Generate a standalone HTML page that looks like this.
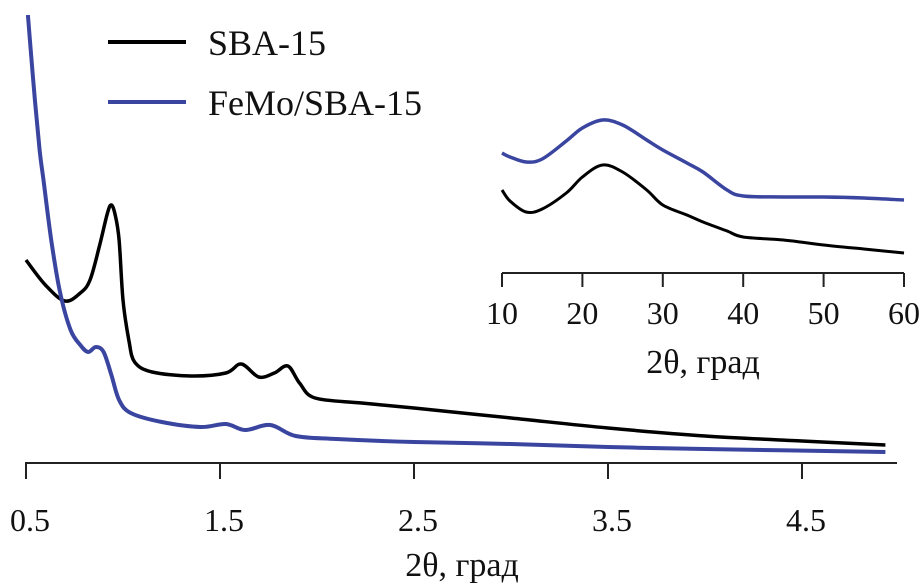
<!DOCTYPE html>
<html><head><meta charset="utf-8"><style>
body{margin:0;background:#fff}
svg{display:block;font-family:"Liberation Serif",serif}
</style></head><body>
<svg id="c" width="924" height="587"></svg>
<script>
const mainTicks=[0.5,1.5,2.5,3.5,4.5];
const mainTickLabels=["0.5","1.5","2.5","3.5","4.5"];
const sbaX=[0.5,0.6,0.7,0.78,0.83,0.88,0.92,0.94,0.96,0.98,1.0,1.03,1.06,1.15,1.35,1.53,1.61,1.7,1.78,1.85,1.91,1.99,2.23,2.5,3.0,3.5,4.0,4.5,4.93];
const sbaY=[203,178,162,170,183,218,250,258,248,223,163,123,101,91,87,90,99,86,90,97,80,65,60,55,45,35,27,22,18];
const femoX=[0.51,0.52,0.546,0.57,0.59,0.63,0.675,0.73,0.78,0.82,0.86,0.9,0.94,0.98,1.04,1.2,1.4,1.53,1.63,1.76,1.89,2.1,2.5,3.0,3.5,4.0,4.93];
const femoY=[448,423,363,313,283,223,171,133,118,111,116,111,88,63,50,41,36,39,33,38,27,24,21,19,16,14,11];
const insetTicks=[10,20,30,40,50,60];
const insetTickLabels=["10","20","30","40","50","60"];
const inSbaX=[10,11,13,15,18,20,22.5,25,28,30,33,35,38,40,45,50,55,60];
const inSbaY=[83,72,61,64,80,96,108,101,83,68,58,51,42,36,33,28,24,20];
const inFemoX=[10,11,13,15,18,20,22.5,25,28,30,33,35,38,40,45,50,55,60];
const inFemoY=[120,116,111,114,132,145,153,148,133,123,110,101,83,77,76,76,75,73];

const svg=document.getElementById('c');
const NS='http://www.w3.org/2000/svg';
function mk(t,a){const e=document.createElementNS(NS,t);for(const k in a)e.setAttribute(k,a[k]);svg.appendChild(e);return e;}
const mx=v=>26+(v-0.5)*194;
const my=v=>463-v;
const ix=v=>502+(v-10)*8.04;
const iy=v=>273-v;

let ax=mk('line',{x1:25,y1:463,x2:897,y2:463,stroke:'#222','stroke-width':2});


mainTicks.forEach((t,i)=>{
 let l=mk('line',{x1:mx(t),y1:463,x2:mx(t),y2:479,stroke:'#222','stroke-width':2});
 
 
 let tx=mk('text',{x:mx(t)+4,y:531,'font-size':32,'text-anchor':'middle',fill:'#111'});
 tx.textContent=mainTickLabels[i];
 
 
});
let xt=mk('text',{x:462,y:576,'font-size':34,'text-anchor':'middle',fill:'#111'});
xt.textContent='2θ, град';



let iax=mk('line',{x1:502,y1:273,x2:904,y2:273,stroke:'#222','stroke-width':2});


insetTicks.forEach((t,i)=>{
 let l=mk('line',{x1:ix(t),y1:273,x2:ix(t),y2:287,stroke:'#222','stroke-width':2});
 
 
 let tx=mk('text',{x:ix(t),y:324,'font-size':32,'text-anchor':'middle',fill:'#111'});
 tx.textContent=insetTickLabels[i];
 
 
});
let ixt=mk('text',{x:703,y:373,'font-size':34,'text-anchor':'middle',fill:'#111'});
ixt.textContent='2θ, град';



function line(xs,ys,fx,fy,col,w,name){
 const P=xs.map((x,i)=>[fx(x),fy(ys[i])]);
 let d='M'+P[0][0].toFixed(1)+' '+P[0][1].toFixed(1);
 for(let i=0;i<P.length-1;i++){
  const p0=P[i-1]||P[i],p1=P[i],p2=P[i+1],p3=P[i+2]||p2;
  const c1=[p1[0]+(p2[0]-p0[0])/6,p1[1]+(p2[1]-p0[1])/6];
  const c2=[p2[0]-(p3[0]-p1[0])/6,p2[1]-(p3[1]-p1[1])/6];
  d+=' C'+c1.map(v=>v.toFixed(1)).join(' ')+' '+c2.map(v=>v.toFixed(1)).join(' ')+' '+p2[0].toFixed(1)+' '+p2[1].toFixed(1);
 }
 const p=mk('path',{d:d,fill:'none',stroke:col,'stroke-width':w,'stroke-linejoin':'round'});
 
 
}
line(sbaX,sbaY,mx,my,'#000',3.5,'sba15-line');
line(femoX,femoY,mx,my,'#3a45a0',4,'femo-sba15-line');
line(inSbaX,inSbaY,ix,iy,'#000',3,'inset-sba15-line');
line(inFemoX,inFemoY,ix,iy,'#3a45a0',3.5,'inset-femo-sba15-line');

[['SBA-15','#000',42],['FeMo/SBA-15','#3a45a0',102]].forEach(([t,c,y])=>{
 let l=mk('line',{x1:108,y1:y,x2:186,y2:y,stroke:c,'stroke-width':4});
 
 
 let tx=mk('text',{x:208,y:y+13,'font-size':36,fill:'#111'});
 tx.textContent=t;
 
 
});
</script>
</body></html>
